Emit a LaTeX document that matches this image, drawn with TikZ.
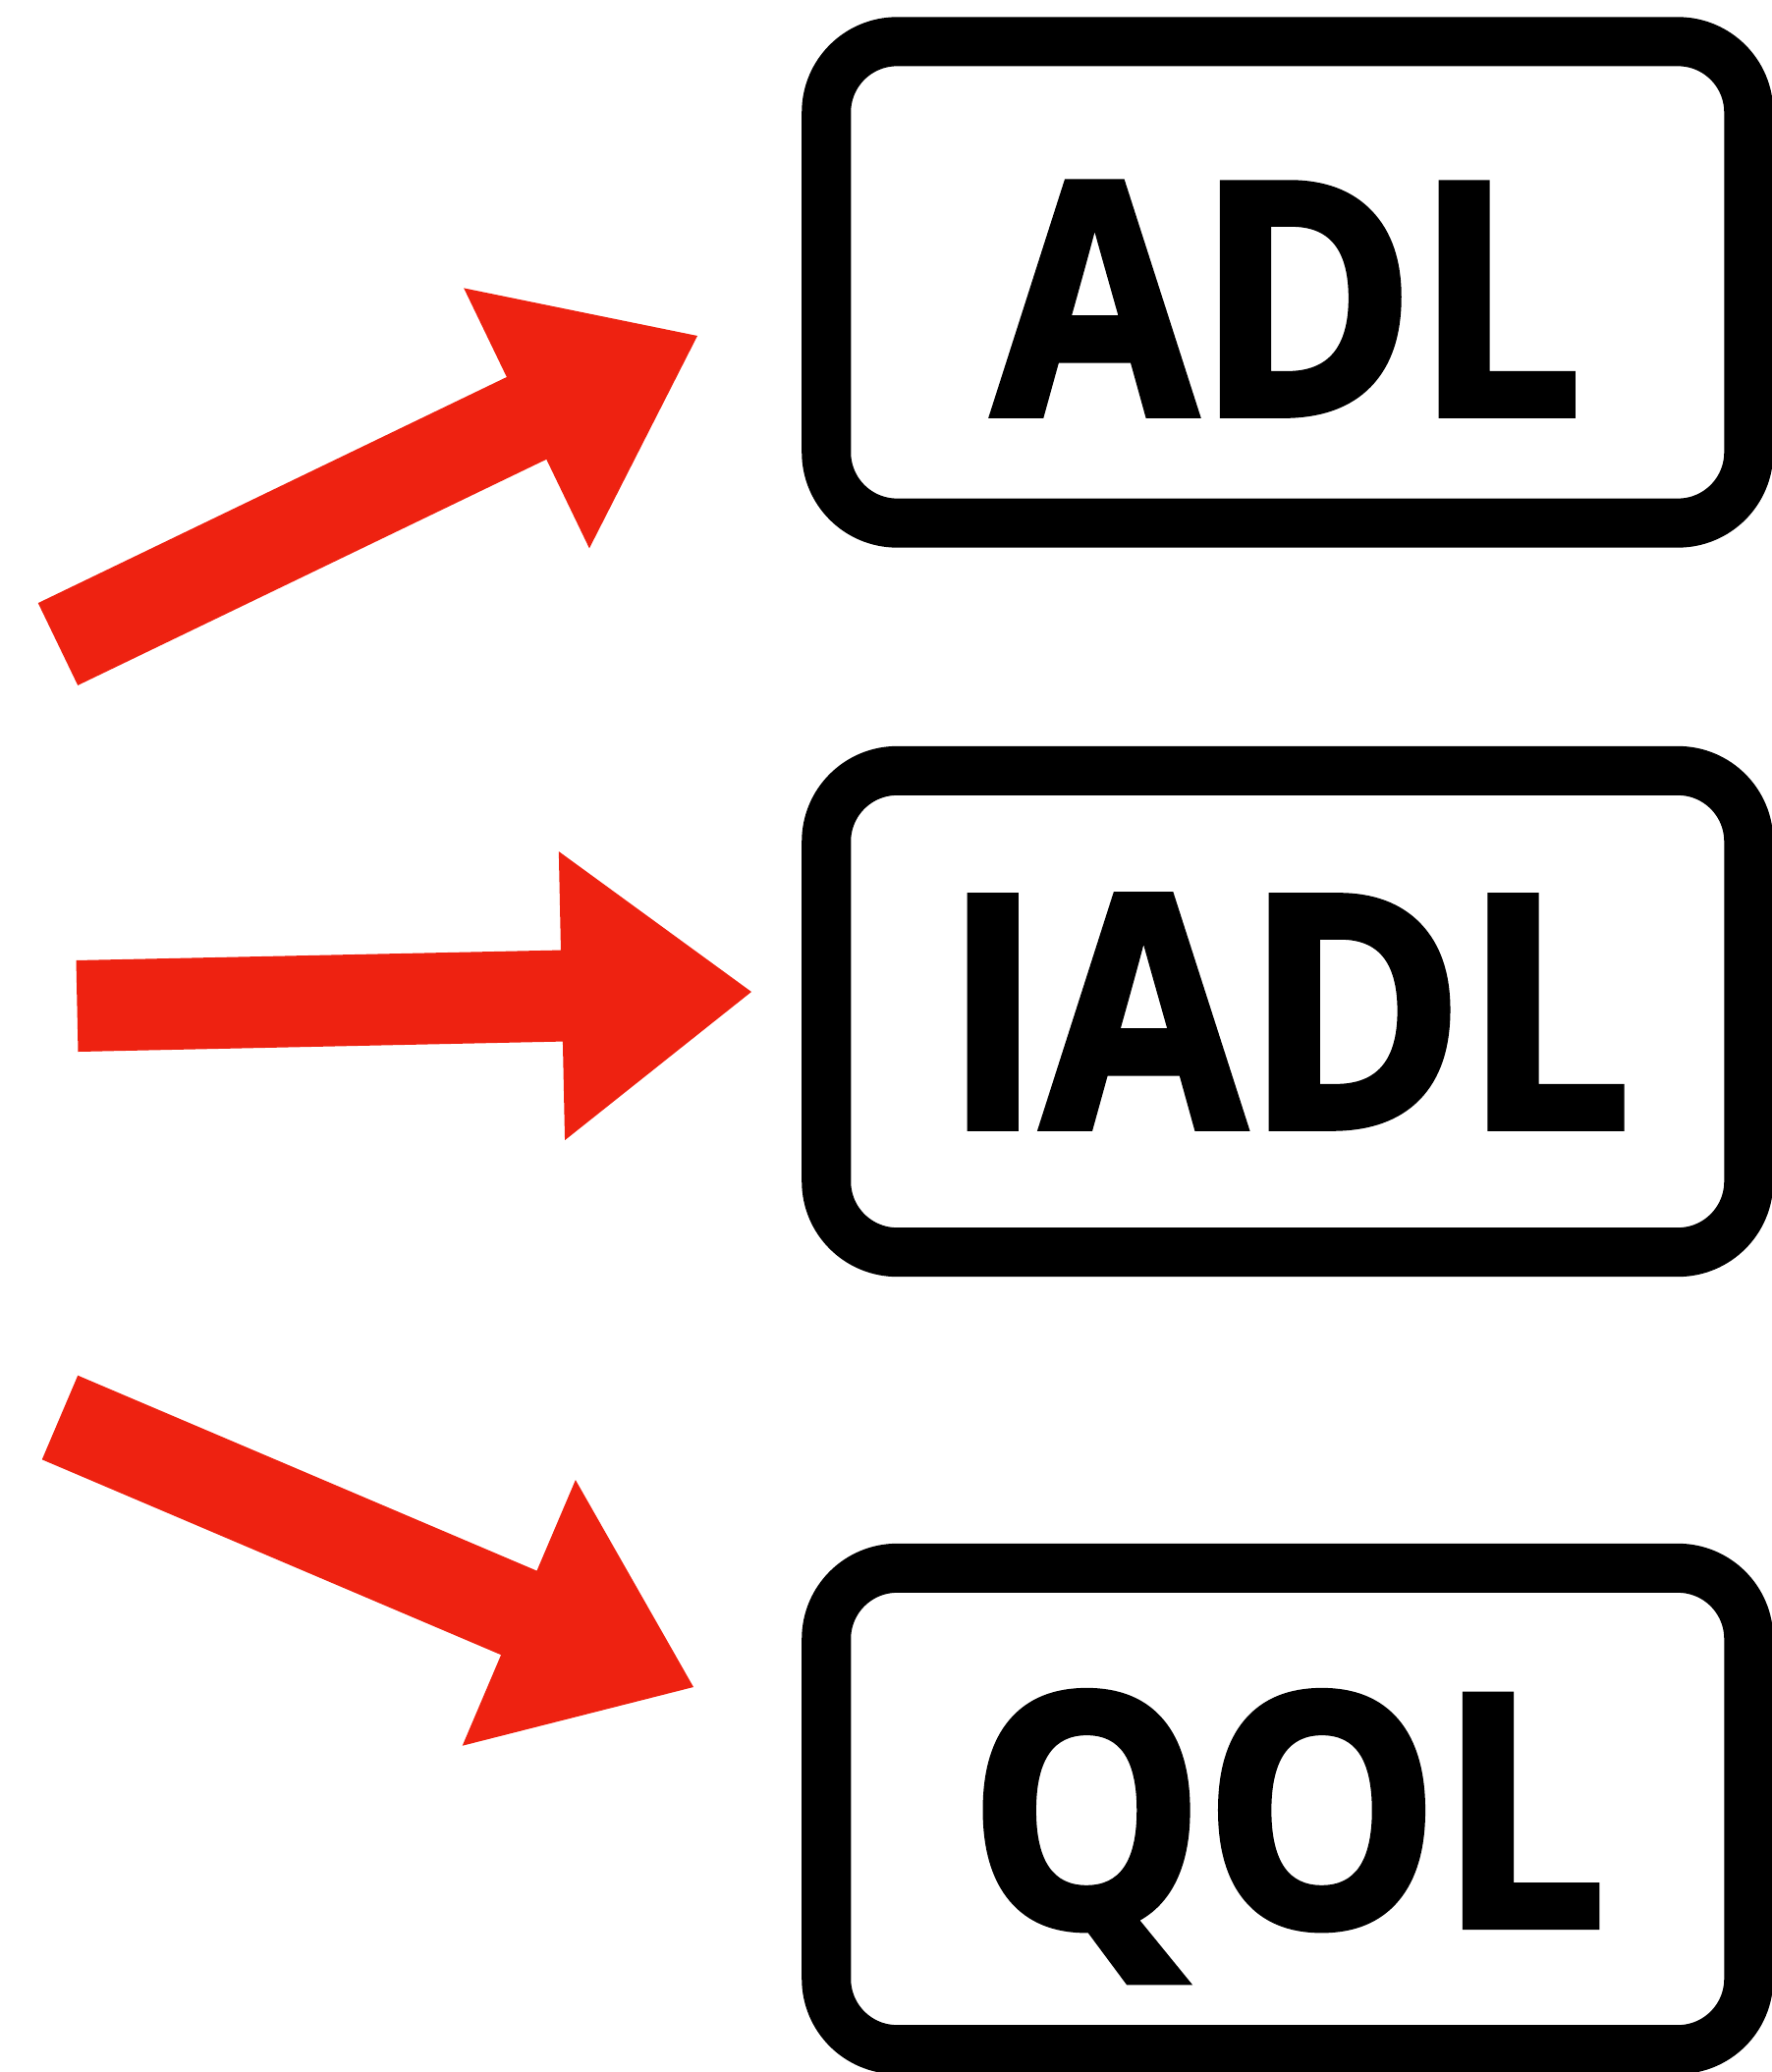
\documentclass[tikz,border=0pt]{standalone}
\usepackage{fontspec}
\newfontfamily\labelfont[FakeStretch=0.91, FakeBold=2]{Open Sans}
\usepackage{tikz}
\usetikzlibrary{calc, positioning}
\definecolor{arrowred}{HTML}{EE2211}

% fat block arrow from tail coordinate #1 to tip coordinate #2
\newcommand{\blockarrow}[2]{%
  \coordinate (#2-base) at ($(#2)!1.93cm!(#1)$);
  \fill[arrowred]
    ($(#1)!0.465cm!90:(#2)$) -- ($(#2-base)!0.465cm!-90:(#1)$)
    -- ($(#2-base)!1.47cm!-90:(#1)$) -- (#2)
    -- ($(#2-base)!1.47cm!90:(#1)$) -- ($(#2-base)!0.465cm!90:(#1)$)
    -- ($(#1)!0.465cm!-90:(#2)$) -- cycle;
}

\begin{document}
\begin{tikzpicture}[
  x=0.01cm, y=-0.01cm,
  box/.style = {draw=black, line width=0.5cm, rounded corners=0.72cm,
                minimum width=9.385cm, minimum height=4.9cm, inner sep=0pt,
                text depth=0pt,
                font=\labelfont\bfseries\fontsize{94pt}{100pt}\selectfont}
]
\useasboundingbox (0,0) rectangle (1804,2110);

\node[box, text height=2.7cm] (adl) at (1310.75,287.5) {ADL};
\node[box] (iadl) at (1310.75,1030) {IADL};
\node[box] (qol)  at (1310.75,1842) {QOL};

% arrow ends
\coordinate (adl-tail)  at (59,656);
\coordinate (adl-tip)   at (710,342);
\coordinate (iadl-tail) at (78.5,1024.5);
\coordinate (iadl-tip)  at (765,1010);
\coordinate (qol-tail)  at (61,1443.5);
\coordinate (qol-tip)   at (706,1718);

\foreach \a in {adl, iadl, qol}
  {\blockarrow{\a-tail}{\a-tip}}
\end{tikzpicture}
\end{document}
